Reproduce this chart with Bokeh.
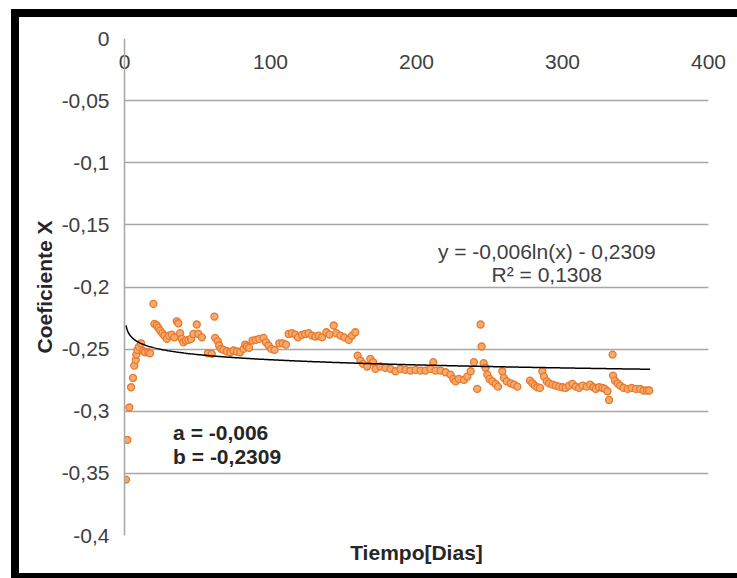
import numpy as np
from bokeh.plotting import figure
from bokeh.models import (Range1d, LinearAxis, FixedTicker, Grid, CustomJSTickFormatter, Label)
from bokeh.embed import file_html
from bokeh.resources import INLINE

# ---- data ----
x_dias = [1.0, 2.0, 3.3, 4.5, 5.8, 6.7, 7.7, 8.1, 8.8, 9.9, 11.3, 12.8, 14.1, 16.3, 17.5,
          19.8, 20.5, 22.1, 23.2, 24.4, 25.9, 27.3, 29.0, 30.5, 32.4, 34.2, 35.8, 36.9, 38.1,
          39.2, 40.3, 42.0, 43.8, 45.6, 47.2, 49.5, 50.6, 53.0, 57.1, 59.8, 61.6, 62.1, 63.9,
          64.8, 66.2, 67.8, 70.1, 72.4, 74.6, 77.0, 79.2, 81.5, 82.7, 83.8, 85.4, 87.7, 90.0,
          92.3, 95.2, 96.9, 98.7, 100.5, 102.8, 106.0, 108.3, 110.6, 112.4, 114.7, 117.0, 118.8,
          121.6, 123.8, 126.1, 128.4, 130.7, 133.0, 135.3, 138.3, 140.5, 143.3, 145.1, 147.9,
          150.6, 153.6, 155.9, 158.1, 159.7, 161.6, 163.4, 166.2, 168.4, 170.3, 171.9, 175.3,
          178.7, 182.2, 185.6, 189.0, 192.5, 195.9, 199.3, 202.8, 206.2, 209.6, 211.5, 213.0,
          216.5, 219.9, 223.3, 225.2, 226.8, 229.0, 232.5, 234.8, 237.1, 239.3, 241.6, 243.9,
          244.6, 246.0, 247.3, 248.5, 250.0, 251.9, 254.2, 255.8, 258.8, 259.9, 261.8, 264.5,
          266.8, 269.1, 277.7, 279.4, 281.0, 282.8, 284.6, 286.2, 287.3, 289.2, 290.8, 293.1,
          295.4, 297.6, 300.0, 302.2, 304.5, 306.8, 309.1, 311.4, 313.7, 316.6, 318.9, 321.2,
          322.8, 325.1, 327.4, 329.0, 330.8, 331.9, 334.3, 334.6, 335.9, 337.7, 339.5, 341.8,
          344.6, 347.3, 350.3, 353.2, 355.5, 357.8, 359.4]
coef_x = [-0.355, -0.323, -0.297, -0.2807, -0.2732, -0.2633, -0.2587, -0.2544, -0.2506, -0.248,
          -0.2453, -0.2515, -0.2525, -0.2525, -0.2533, -0.2136, -0.2297, -0.231, -0.2329, -0.2351,
          -0.2372, -0.2391, -0.2418, -0.2391, -0.2383, -0.2405, -0.2276, -0.2292, -0.2372, -0.2418,
          -0.2445, -0.2431, -0.2426, -0.2418, -0.2378, -0.2302, -0.2378, -0.2405, -0.2533, -0.2538,
          -0.2238, -0.2409, -0.2437, -0.2471, -0.2498, -0.2506, -0.2517, -0.2525, -0.2511, -0.2519,
          -0.2525, -0.2498, -0.2463, -0.2479, -0.249, -0.2431, -0.2426, -0.2418, -0.2409, -0.2445,
          -0.2471, -0.2498, -0.2506, -0.2453, -0.2453, -0.2463, -0.2378, -0.2372, -0.2383, -0.2405,
          -0.2385, -0.2378, -0.2372, -0.2391, -0.2399, -0.2391, -0.2405, -0.2364, -0.2383, -0.231,
          -0.2372, -0.2391, -0.2405, -0.2426, -0.2391, -0.2364, -0.2552, -0.2592, -0.2619, -0.264,
          -0.2578, -0.2605, -0.2659, -0.264, -0.2651, -0.2659, -0.2678, -0.2659, -0.2667, -0.2673,
          -0.2667, -0.2673, -0.2673, -0.2659, -0.2605, -0.2673, -0.2673, -0.2686, -0.2705, -0.274,
          -0.2759, -0.274, -0.2748, -0.2721, -0.2678, -0.2605, -0.282, -0.2302, -0.2479, -0.2613,
          -0.265, -0.2705, -0.274, -0.2759, -0.278, -0.2802, -0.2678, -0.2732, -0.2759, -0.2775,
          -0.2786, -0.2802, -0.2753, -0.2775, -0.2794, -0.2807, -0.2812, -0.2678, -0.2721, -0.2759,
          -0.2775, -0.2786, -0.2794, -0.2802, -0.2807, -0.2812, -0.2794, -0.278, -0.2802, -0.2812,
          -0.2794, -0.2802, -0.2786, -0.2807, -0.282, -0.2807, -0.2812, -0.282, -0.2839, -0.2909,
          -0.2544, -0.2713, -0.2753, -0.2775, -0.2794, -0.2812, -0.282, -0.2812, -0.282, -0.282,
          -0.2833, -0.2833, -0.2833]

x_ticks = [0, 100, 200, 300, 400]
x_tick_labels = ["0", "100", "200", "300", "400"]
y_ticks = [0, -0.05, -0.1, -0.15, -0.2, -0.25, -0.3, -0.35, -0.4]
y_tick_labels = ["0", "-0,05", "-0,1", "-0,15", "-0,2", "-0,25", "-0,3", "-0,35", "-0,4"]

trend_a = -0.006
trend_b = -0.2309
trend_x_max = 360

eq_text = "y = -0,006ln(x) - 0,2309"
r2_text = "R² = 0,1308"
a_text = "a = -0,006"
b_text = "b = -0,2309"
x_title = "Tiempo[Dias]"
y_title = "Coeficiente X"

FONT = "Liberation Sans"
FS = "21px"
GRID = "#a6a6a6"
TICK_COLOR = "#404040"
TITLE_COLOR = "#262626"

p = figure(width=737, height=578, output_backend="svg", toolbar_location=None,
           x_range=Range1d(0, 400), y_range=Range1d(-0.4, 0),
           x_axis_type=None, y_axis_type=None,
           min_border_left=124, min_border_right=29, min_border_top=38, min_border_bottom=43)
p.outline_line_color = None
p.background_fill_color = "white"
p.border_fill_alpha = 0.0
# black frame of the screenshot (top, left and bottom bars), painted behind the canvas
p.styles = {
    "background": ("linear-gradient(#000,#000) 11px 9px / 726px 8px no-repeat, "
                   "linear-gradient(#000,#000) 11px 9px / 8px 569px no-repeat, "
                   "linear-gradient(#000,#000) 11px 573px / 726px 5px no-repeat, #ffffff"),
}

JS_LOOKUP = """
let best = 0, d = Infinity;
for (let i = 0; i < vals.length; i++) {
  const e = Math.abs(vals[i] - tick);
  if (e < d) { d = e; best = i; }
}
return labs[best];
"""

yfmt = CustomJSTickFormatter(args=dict(vals=y_ticks, labs=y_tick_labels), code=JS_LOOKUP)
xfmt = CustomJSTickFormatter(args=dict(vals=x_ticks, labs=x_tick_labels), code=JS_LOOKUP)

yaxis = LinearAxis(ticker=FixedTicker(ticks=y_ticks), formatter=yfmt,
                   axis_line_color=GRID, axis_line_width=1.5,
                   major_tick_line_color=None, minor_tick_line_color=None,
                   major_tick_out=0, major_tick_in=0, major_label_standoff=15,
                   major_label_text_font=FONT, major_label_text_font_size=FS,
                   major_label_text_color=TICK_COLOR,
                   axis_label=y_title, axis_label_text_font=FONT,
                   axis_label_text_font_style="bold", axis_label_text_font_size=FS,
                   axis_label_text_color=TITLE_COLOR, axis_label_standoff=3)
p.add_layout(yaxis, "left")

# x axis labels sit just under the y=0 line (Excel axis crossing at 0)
xaxis = LinearAxis(ticker=FixedTicker(ticks=x_ticks), formatter=xfmt,
                   axis_line_color=None,
                   major_tick_line_color=None, minor_tick_line_color=None,
                   major_tick_out=0, major_tick_in=0, major_label_standoff=-30,
                   major_label_text_font=FONT, major_label_text_font_size=FS,
                   major_label_text_color=TICK_COLOR)
p.add_layout(xaxis, "above")

xtitle_axis = LinearAxis(ticker=FixedTicker(ticks=[]), axis_line_color=None,
                         major_tick_line_color=None, minor_tick_line_color=None,
                         major_tick_out=0, major_tick_in=0, major_label_standoff=0,
                         axis_label=x_title, axis_label_text_font=FONT,
                         axis_label_text_font_style="bold", axis_label_text_font_size=FS,
                         axis_label_text_color=TITLE_COLOR, axis_label_standoff=5)
p.add_layout(xtitle_axis, "below")

p.add_layout(Grid(dimension=1, ticker=FixedTicker(ticks=y_ticks),
                  grid_line_color=GRID, grid_line_width=1.5), "center")

# scatter data
p.scatter(x_dias, coef_x, marker="circle", size=7, fill_color="#F4AA6E",
          line_color="#E9782A", line_width=1.3)

# logarithmic trend line
xt = np.linspace(1, trend_x_max, 500)
yt = trend_a * np.log(xt) + trend_b
p.line(xt, yt, line_color="black", line_width=1.5)

# annotations
p.add_layout(Label(x=289.2, y=-0.1714, text=eq_text, text_align="center", text_baseline="middle",
                   text_font=FONT, text_font_size=FS, text_color=TICK_COLOR))
p.add_layout(Label(x=289.2, y=-0.190, text=r2_text, text_align="center", text_baseline="middle",
                   text_font=FONT, text_font_size=FS, text_color=TICK_COLOR))
p.add_layout(Label(x=33.3, y=-0.3171, text=a_text, text_align="left", text_baseline="middle",
                   text_font=FONT, text_font_size=FS, text_font_style="bold",
                   text_color=TITLE_COLOR))
p.add_layout(Label(x=33.3, y=-0.3364, text=b_text, text_align="left", text_baseline="middle",
                   text_font=FONT, text_font_size=FS, text_font_style="bold",
                   text_color=TITLE_COLOR))

open("out.html", "w").write(file_html(p, INLINE))
